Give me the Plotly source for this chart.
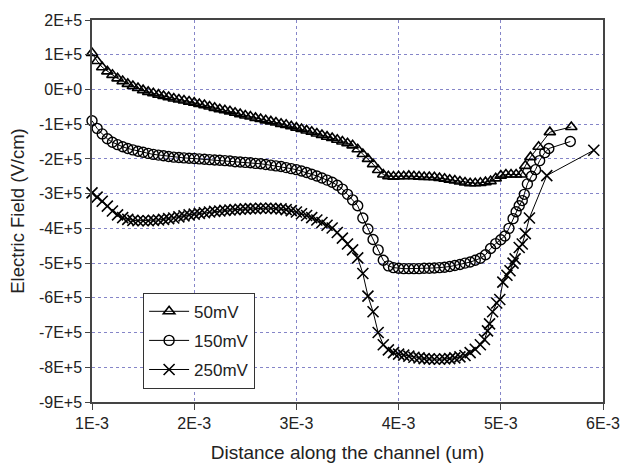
import plotly.graph_objects as go

# x positions in units of 1E-3 um (dense common grid)
X_BASE = [1.00, 1.05, 1.10, 1.15, 1.20, 1.25, 1.30, 1.35, 1.40, 1.45,
          1.50, 1.55, 1.60, 1.65, 1.70, 1.75, 1.80, 1.85, 1.90, 1.95,
          2.00, 2.05, 2.10, 2.15, 2.20, 2.25, 2.30, 2.35, 2.40, 2.45,
          2.50, 2.55, 2.60, 2.65, 2.70, 2.75, 2.80, 2.85, 2.90, 2.95,
          3.00, 3.05, 3.10, 3.15, 3.20, 3.25, 3.30, 3.35, 3.40, 3.45,
          3.50, 3.55, 3.60, 3.65, 3.70, 3.75, 3.80, 3.85, 3.90, 3.95,
          4.00, 4.05, 4.10, 4.15, 4.20, 4.25, 4.30, 4.35, 4.40, 4.45,
          4.50, 4.55, 4.60, 4.65, 4.70, 4.75, 4.80]

# 50 mV (E field in units of 1E5 V/cm)
Y50_BASE = [1.05, 0.82, 0.64, 0.52, 0.42, 0.32, 0.24, 0.16, 0.10, 0.04,
            -0.02, -0.07, -0.11, -0.15, -0.19, -0.22, -0.26, -0.29, -0.32, -0.35,
            -0.38, -0.42, -0.45, -0.49, -0.53, -0.57, -0.60, -0.63, -0.67, -0.71,
            -0.75, -0.78, -0.82, -0.85, -0.89, -0.92, -0.95, -0.99, -1.02, -1.06,
            -1.10, -1.14, -1.18, -1.22, -1.27, -1.31, -1.36, -1.40, -1.45, -1.50,
            -1.55, -1.61, -1.72, -1.86, -2.00, -2.15, -2.32, -2.45, -2.50, -2.51,
            -2.50, -2.50, -2.49, -2.50, -2.51, -2.52, -2.52, -2.53, -2.55, -2.57,
            -2.60, -2.62, -2.65, -2.68, -2.70, -2.70, -2.69]
X50_TAIL = [4.85, 4.90, 4.95, 5.00, 5.05, 5.10, 5.15, 5.20, 5.24, 5.29, 5.37, 5.48, 5.69]
Y50_TAIL = [-2.67, -2.64, -2.56, -2.48, -2.45, -2.45, -2.45, -2.45, -2.20, -1.95, -1.65, -1.23, -1.08]

# 150 mV
Y150_BASE = [-0.90, -1.12, -1.28, -1.42, -1.52, -1.59, -1.65, -1.70, -1.74, -1.78,
             -1.81, -1.84, -1.87, -1.89, -1.91, -1.93, -1.95, -1.96, -1.97, -1.98,
             -1.99, -2.00, -2.01, -2.02, -2.03, -2.04, -2.05, -2.06, -2.08, -2.09,
             -2.10, -2.11, -2.13, -2.14, -2.16, -2.18, -2.20, -2.22, -2.25, -2.28,
             -2.31, -2.35, -2.39, -2.44, -2.49, -2.55, -2.61, -2.67, -2.76, -2.87,
             -3.02, -3.18, -3.35, -3.70, -4.02, -4.32, -4.62, -4.92, -5.08, -5.13,
             -5.15, -5.16, -5.16, -5.16, -5.16, -5.15, -5.15, -5.14, -5.13, -5.12,
             -5.10, -5.07, -5.04, -5.00, -4.97, -4.92, -4.86]
X150_TAIL = [4.85, 4.90, 4.95, 5.00, 5.04, 5.08, 5.12, 5.15, 5.18, 5.21, 5.23,
             5.26, 5.30, 5.34, 5.38, 5.43, 5.47, 5.68]
Y150_TAIL = [-4.76, -4.58, -4.44, -4.33, -4.22, -4.00, -3.72, -3.52, -3.35, -3.20, -3.02,
             -2.72, -2.50, -2.31, -2.05, -1.82, -1.70, -1.50]

# 250 mV
Y250_BASE = [-2.98, -3.10, -3.22, -3.36, -3.50, -3.61, -3.69, -3.74, -3.77, -3.78,
             -3.78, -3.78, -3.77, -3.76, -3.74, -3.72, -3.70, -3.67, -3.64, -3.61,
             -3.59, -3.57, -3.55, -3.53, -3.51, -3.50, -3.48, -3.47, -3.46, -3.45,
             -3.44, -3.43, -3.43, -3.42, -3.42, -3.42, -3.43, -3.44, -3.46, -3.49,
             -3.53, -3.58, -3.63, -3.69, -3.76, -3.83, -3.91, -3.99, -4.12, -4.28,
             -4.45, -4.62, -4.85, -5.30, -5.95, -6.40, -7.00, -7.35, -7.50, -7.58,
             -7.62, -7.65, -7.68, -7.71, -7.73, -7.75, -7.76, -7.77, -7.77, -7.76,
             -7.75, -7.73, -7.70, -7.66, -7.58, -7.48, -7.35]
X250_TAIL = [4.84, 4.87, 4.89, 4.92, 4.96, 4.99, 5.02, 5.06, 5.09, 5.12, 5.14,
             5.18, 5.21, 5.24, 5.28, 5.45, 5.91]
Y250_TAIL = [-7.20, -6.95, -6.75, -6.40, -6.15, -6.05, -5.55, -5.35, -5.22, -5.00, -4.88,
             -4.55, -4.45, -4.15, -3.70, -2.48, -1.75]

SERIES = [
    ("50mV", X_BASE + X50_TAIL, Y50_BASE + Y50_TAIL, "triangle-up-open", 10, 1.6),
    ("150mV", X_BASE + X150_TAIL, Y150_BASE + Y150_TAIL, "circle-open", 10, 1.4),
    ("250mV", X_BASE + X250_TAIL, Y250_BASE + Y250_TAIL, "x-thin-open", 11, 1.6),
]

X_TICKS = [1e-3, 2e-3, 3e-3, 4e-3, 5e-3, 6e-3]
X_TICKTEXT = ["1E-3", "2E-3", "3E-3", "4E-3", "5E-3", "6E-3"]
Y_TICKS = [2e5, 1e5, 0, -1e5, -2e5, -3e5, -4e5, -5e5, -6e5, -7e5, -8e5, -9e5]
Y_TICKTEXT = ["2E+5", "1E+5", "0E+0", "-1E+5", "-2E+5", "-3E+5", "-4E+5",
              "-5E+5", "-6E+5", "-7E+5", "-8E+5", "-9E+5"]

FONT = "Liberation Sans, Arial, sans-serif"

fig = go.Figure()
for name, xs, ys, sym, msize, mlw in SERIES:
    fig.add_trace(go.Scatter(
        x=[v * 1e-3 for v in xs],
        y=[v * 1e5 for v in ys],
        name=name,
        legendgroup=name,
        mode="lines+markers",
        cliponaxis=False,
        line=dict(color="black", width=1),
        marker=dict(symbol=sym, size=msize, color="black",
                    line=dict(color="black", width=mlw)),
    ))

grid_color = "#8585c8"
fig.update_layout(
    width=632, height=472,
    margin=dict(l=92, r=19, t=13, b=64),
    paper_bgcolor="white", plot_bgcolor="white",
    font=dict(family=FONT, size=16, color="#222"),
    showlegend=True,
    legend=dict(
        x=0.10, y=0.286, xanchor="left", yanchor="top",
        bgcolor="white", bordercolor="#333", borderwidth=1,
        font=dict(family=FONT, size=17, color="#222"),
        tracegroupgap=4, itemwidth=40,
    ),
    xaxis=dict(
        range=[1e-3, 6e-3], tickvals=X_TICKS, ticktext=X_TICKTEXT,
        showgrid=True, gridcolor=grid_color, gridwidth=1, griddash="3px,3px",
        showline=True, linecolor="#444", linewidth=1.5, mirror=True,
        ticks="outside", ticklen=6, tickcolor="#444",
        tickfont=dict(family=FONT, size=16, color="#222"),
        zeroline=False,
        title=dict(text="Distance along the channel (um)", standoff=15,
                   font=dict(family=FONT, size=19, color="#222")),
    ),
    yaxis=dict(
        range=[-9e5, 2e5], tickvals=Y_TICKS, ticktext=Y_TICKTEXT,
        showgrid=True, gridcolor=grid_color, gridwidth=1, griddash="3px,3px",
        showline=True, linecolor="#444", linewidth=1.5, mirror=True,
        ticks="outside", ticklen=5, tickcolor="#444",
        tickfont=dict(family=FONT, size=16, color="#222"),
        zeroline=False,
        title=dict(text="Electric Field (V/cm)", standoff=9,
                   font=dict(family=FONT, size=18.5, color="#222")),
    ),
)

fig.write_html("out.html")
